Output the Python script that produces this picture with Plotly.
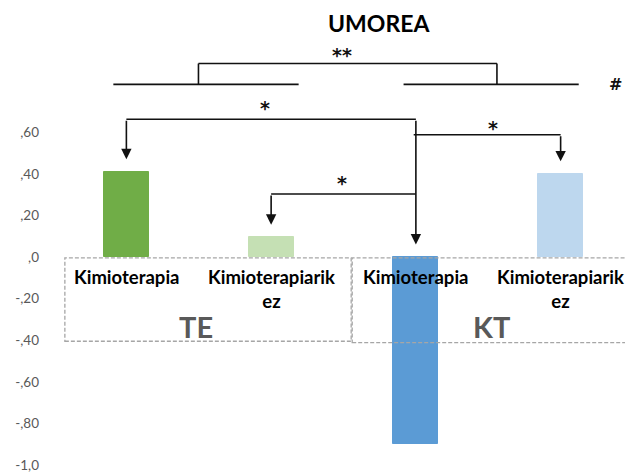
import plotly.graph_objects as go

# ---- data ----
categories = ["Kimioterapia", "Kimioterapiarik<br>ez", "Kimioterapia", "Kimioterapiarik<br>ez"]
values = [0.41, 0.095, -0.90, 0.40]
bar_colors = ["#70AD47", "#C5E0B4", "#5B9BD5", "#BDD7EE"]
groups = ["TE", "KT"]
tick_vals = [0.6, 0.4, 0.2, 0.0, -0.2, -0.4, -0.6, -0.8, -1.0]
tick_text = [",60", ",40", ",20", ",0", "-,20", "-,40", "-,60", "-,80", "-1,0"]
title = "UMOREA"

FONT = "Lato"
SYM = "DejaVu Sans"
x_idx = list(range(len(categories)))

# page has an 8px body margin, so the figure is drawn 8px smaller
W, H = 625, 464
PX_PER_UNIT = 208
ZERO_Y = 249  # figure px of y=0

fig = go.Figure()
fig.add_trace(go.Bar(
    x=x_idx, y=values, width=0.31,
    marker=dict(color=bar_colors, line=dict(color=bar_colors, width=1)),
    hoverinfo="skip", showlegend=False,
))

shapes = []
annotations = []
LW = 1.6
LC = "#111111"

def hline(x0, x1, y):
    shapes.append(dict(type="line", xref="x", yref="y", x0=x0, x1=x1, y0=y, y1=y,
                       line=dict(color=LC, width=LW)))

def vline(x, y0, y1):
    shapes.append(dict(type="line", xref="x", yref="y", x0=x, x1=x, y0=y0, y1=y1,
                       line=dict(color=LC, width=LW)))

def arrow(x, y_from, y_to):
    annotations.append(dict(x=x, y=y_to, ax=x, ay=y_from, xref="x", yref="y",
                            axref="x", ayref="y", text="", showarrow=True,
                            arrowhead=2, arrowsize=1.3, arrowwidth=LW, arrowcolor=LC,
                            standoff=0, startstandoff=0))

def star(x, y, txt, size=19):
    annotations.append(dict(x=x, y=y, xref="x", yref="y", text="<b>" + txt + "</b>",
                            showarrow=False,
                            font=dict(family=SYM, size=size, color="#111111"),
                            xanchor="center", yanchor="middle"))

def tip(i):
    return max(values[i], 0) + 0.06

# group comparison (#, **)
y_top, y_grp = 0.930, 0.830
hline(-0.09, 1.19, y_grp)
hline(1.915, 3.125, y_grp)
hline(0.498, 2.56, y_top)
vline(0.498, y_top, y_grp)
vline(2.56, y_top, y_grp)
star(1.49, 0.972, "**")
annotations.append(dict(x=3.38, y=0.827, xref="x", yref="y", text="<b>#</b>", showarrow=False,
                        font=dict(family=SYM, size=16, color="#111111"),
                        xanchor="center", yanchor="middle"))

# pairwise arrows from bar 2 (index 2)
trunk = 2
y1, y2, y3 = 0.662, 0.588, 0.303
hline(0, trunk, y1)
arrow(0, y1, tip(0))
arrow(trunk, y1, tip(2))
hline(trunk - 0.015, 3, y2)
arrow(3, y2, tip(3))
hline(1, trunk, y3)
arrow(1, y3, tip(1))
star(0.96, 0.717, "*")
star(2.53, 0.622, "*")
star(1.49, 0.357, "*")

# category labels
for i, c in enumerate(categories):
    two = "<br>" in c
    annotations.append(dict(x=i, y=-0.155 if two else -0.095, xref="x", yref="y",
                            text="<b>" + c + "</b>",
                            showarrow=False, yanchor="middle", xanchor="center",
                            font=dict(family=FONT, size=18.5, color="#000000")))

# group boxes and labels
box_x = [(-0.425, 1.553), (1.560, 3.7)]
box_y = [(0.0, -0.405), (0.0, -0.412)]
group_x = [0.484, 2.523]
for g, (bx0, bx1), (by0, by1), gx in zip(groups, box_x, box_y, group_x):
    shapes.append(dict(type="rect", xref="x", yref="y", x0=bx0, x1=bx1, y0=by1, y1=by0 - 0.004,
                       line=dict(color="#A6A6A6", width=1.3, dash="4px,2px"),
                       fillcolor="rgba(0,0,0,0)"))
    annotations.append(dict(x=gx, y=-0.335, xref="x", yref="y", text="<b>" + g + "</b>",
                            showarrow=False, yanchor="middle", xanchor="center",
                            font=dict(family=FONT, size=29, color="#595959")))

# title as a paper annotation anchored at the top edge
annotations.append(dict(x=351 / W, y=1.0, xref="paper", yref="paper", xanchor="center",
                        yanchor="top", yshift=0, showarrow=False, borderpad=0,
                        text="<b>" + title + "</b>",
                        font=dict(family=FONT, size=23, color="#000000")))

fig.update_layout(
    width=W, height=H,
    margin=dict(l=46, r=0, t=0, b=0),
    paper_bgcolor="white", plot_bgcolor="white",
    shapes=shapes, annotations=annotations,
    xaxis=dict(range=[-0.5, 3.5], showticklabels=False, showgrid=False, zeroline=False,
               showline=False, ticks="", fixedrange=True),
    yaxis=dict(range=[-(H - ZERO_Y) / PX_PER_UNIT, ZERO_Y / PX_PER_UNIT],
               tickvals=tick_vals, ticktext=tick_text,
               showgrid=False, zeroline=False, showline=False, ticks="",
               ticklabelstandoff=14, ticklabeloverflow="allow",
               tickfont=dict(family=FONT, size=13.5, color="#595959")),
    bargap=0,
)
fig.write_html("out.html")
